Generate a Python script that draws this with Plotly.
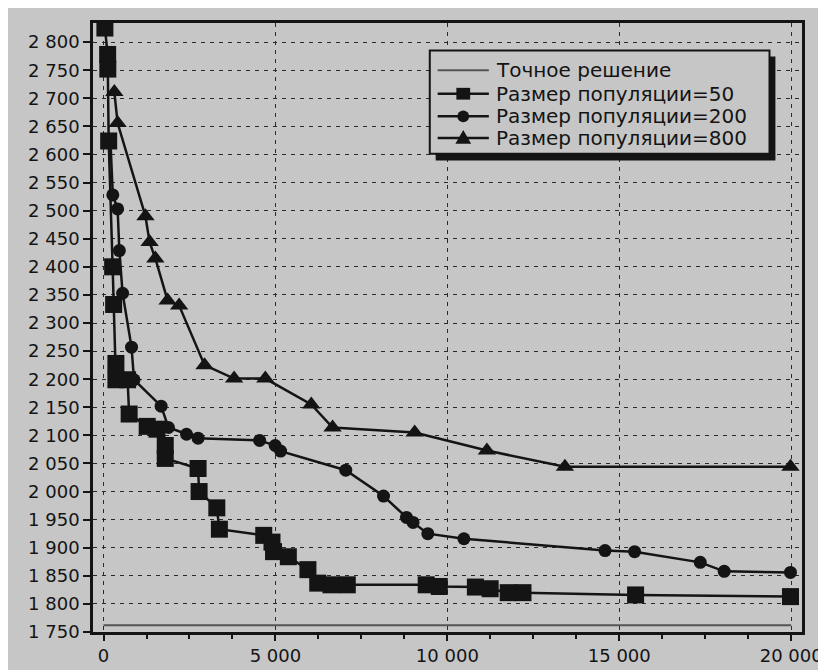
import plotly.graph_objects as go

# ---- data ----
x_exact = [0, 20000]
y_exact = [1762, 1762]

x50 = [40, 120, 125, 150, 265, 295, 360, 360, 700, 745, 1270, 1555, 1795, 1795,
       2750, 2780, 3295, 3370, 4660, 4900, 4945, 5375, 5945, 6230, 6615, 7090,
       9385, 9765, 10815, 11245, 11770, 12200, 15475, 19980]
y50 = [2825, 2778, 2752, 2624, 2400, 2333, 2228, 2199, 2199, 2138, 2116, 2111, 2082, 2059,
       2041, 2000, 1971, 1933, 1922, 1910, 1893, 1884, 1861, 1837, 1834, 1834,
       1834, 1831, 1830, 1827, 1820, 1820, 1816, 1813]

x200 = [200, 270, 410, 460, 555, 815, 887, 1675, 1890, 2414, 2750, 4540, 4992, 5150,
        7045, 8143, 8811, 9002, 9432, 10482, 14587, 15446, 17356, 18052, 19980]
y200 = [2625, 2528, 2503, 2429, 2353, 2257, 2199, 2152, 2114, 2102, 2095, 2091, 2082, 2072,
        2038, 1992, 1954, 1945, 1925, 1916, 1895, 1893, 1874, 1858, 1856]

x800 = [315, 410, 1220, 1340, 1507, 1865, 2200, 2939, 3798, 4706, 6043, 6662, 9050,
        11150, 13420, 19980]
y800 = [2711, 2656, 2490, 2444, 2415, 2340, 2331, 2225, 2201, 2201, 2155, 2114, 2105,
        2073, 2044, 2044]

names = ["Точное решение", "Размер популяции=50", "Размер популяции=200",
         "Размер популяции=800"]

x_ticks = [0, 5000, 10000, 15000, 20000]
x_ticktext = ["0", "5 000", "10 000", "15 000", "20 000"]
y_ticks = list(range(1750, 2801, 50))
y_ticktext = [f"{v:,}".replace(",", " ") for v in y_ticks]

BG = "#c6c6c6"
INK = "#141414"
EXACT = "#555555"

W, H = 826, 670
ML, MR, MT, MB = 85, 21, 15, 35
PW, PH = W - ML - MR, H - MT - MB


def px(x):   # pixel -> paper x (legend decoration only)
    return (x - ML) / PW


def py(y):   # pixel -> paper y (legend decoration only)
    return (H - MB - y) / PH


fig = go.Figure()
fig.add_trace(go.Scatter(x=x_exact, y=y_exact, mode="lines", name=names[0],
                         line=dict(color=EXACT, width=2)))
fig.add_trace(go.Scatter(x=x50, y=y50, mode="lines+markers", name=names[1],
                         line=dict(color=INK, width=2.5),
                         marker=dict(symbol="square", size=17, color=INK)))
fig.add_trace(go.Scatter(x=x200, y=y200, mode="lines+markers", name=names[2],
                         line=dict(color=INK, width=2.5),
                         marker=dict(symbol="circle", size=13, color=INK)))
fig.add_trace(go.Scatter(x=x800, y=y800, mode="lines+markers", name=names[3],
                         line=dict(color=INK, width=2.5),
                         marker=dict(symbol="triangle-up", size=16, color=INK)))

# ---- legend box drawn as decoration (Excel style with drop shadow) ----
box_l, box_t, box_r, box_b = 427, 43, 772, 148
shapes = [
    dict(type="rect", xref="paper", yref="paper", layer="above",
         x0=px(box_l + 6), x1=px(box_r + 6), y0=py(box_b + 7), y1=py(box_t + 6),
         fillcolor=INK, line=dict(width=0)),
    dict(type="rect", xref="paper", yref="paper", layer="above",
         x0=px(box_l), x1=px(box_r), y0=py(box_b), y1=py(box_t),
         fillcolor=BG, line=dict(color=INK, width=2)),
]
annotations = []
rows = [63, 87, 110, 132]
s_l, s_r, s_c = 435, 487, 461
for i, (name, ry) in enumerate(zip(names, rows)):
    col = EXACT if i == 0 else INK
    lw = 2 if i == 0 else 2.5
    shapes.append(dict(type="line", xref="paper", yref="paper", layer="above",
                       x0=px(s_l), x1=px(s_r), y0=py(ry), y1=py(ry),
                       line=dict(color=col, width=lw)))
    if i == 1:
        shapes.append(dict(type="rect", xref="paper", yref="paper", layer="above",
                           x0=px(s_c - 7), x1=px(s_c + 7), y0=py(ry + 6), y1=py(ry - 6),
                           fillcolor=INK, line=dict(width=0)))
    elif i == 2:
        shapes.append(dict(type="circle", xref="paper", yref="paper", layer="above",
                           x0=px(s_c - 6), x1=px(s_c + 6), y0=py(ry + 6), y1=py(ry - 6),
                           fillcolor=INK, line=dict(width=0)))
    elif i == 3:
        path = "M {:.5f} {:.5f} L {:.5f} {:.5f} L {:.5f} {:.5f} Z".format(
            px(s_c - 8), py(ry + 6), px(s_c + 8), py(ry + 6), px(s_c), py(ry - 8))
        shapes.append(dict(type="path", xref="paper", yref="paper", layer="above",
                           path=path, fillcolor=INK, line=dict(width=0)))
    annotations.append(dict(xref="paper", yref="paper", x=px(492), y=py(ry),
                            xanchor="left", yanchor="middle", showarrow=False,
                            text=name, font=dict(size=20, color=INK)))

fig.update_layout(
    width=W, height=H,
    margin=dict(l=ML, r=MR, t=MT, b=MB),
    paper_bgcolor=BG, plot_bgcolor=BG,
    font=dict(family="DejaVu Sans", size=18, color=INK),
    showlegend=False,
    shapes=shapes, annotations=annotations,
)
fig.update_xaxes(range=[-306, 20315], tickvals=x_ticks, ticktext=x_ticktext,
                 ticks="outside", ticklen=6, tickwidth=1.5, tickcolor=INK,
                 minor=dict(dtick=1250, tick0=0, ticks="outside", ticklen=4,
                            tickcolor=INK, showgrid=False),
                 showgrid=True, gridcolor="#2a2a2a", gridwidth=1, griddash="4px,5px",
                 showline=True, mirror=True, linecolor=INK, linewidth=2.5,
                 zeroline=False)
fig.update_yaxes(range=[1750, 2834], tickvals=y_ticks, ticktext=y_ticktext,
                 ticks="outside", ticklen=7, tickwidth=1.5, tickcolor=INK,
                 showgrid=True, gridcolor="#2a2a2a", gridwidth=1, griddash="4px,5px",
                 showline=True, mirror=True, linecolor=INK, linewidth=2.5,
                 zeroline=False)

fig.write_html("out.html")
